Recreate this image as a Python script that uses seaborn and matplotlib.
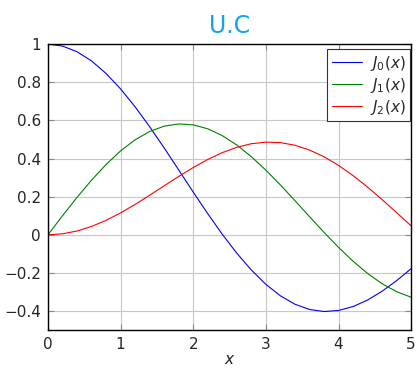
import numpy as np
import pandas as pd
import matplotlib
matplotlib.use("Agg")
import matplotlib.pyplot as plt
import seaborn as sns

# values, step 0.2
x_vals = [0.0, 0.2, 0.4, 0.6, 0.8, 1.0, 1.2, 1.4, 1.6, 1.8, 2.0, 2.2, 2.4,
          2.6, 2.8, 3.0, 3.2, 3.4, 3.6, 3.8, 4.0, 4.2, 4.4, 4.6, 4.8, 5.0]
j0_vals = [1.0000, 0.9900, 0.9604, 0.9120, 0.8463, 0.7652, 0.6711, 0.5669,
           0.4554, 0.3400, 0.2239, 0.1104, 0.0025, -0.0968, -0.1850, -0.2601,
           -0.3202, -0.3643, -0.3918, -0.4026, -0.3971, -0.3766, -0.3423,
           -0.2961, -0.2404, -0.1776]
j1_vals = [0.0000, 0.0995, 0.1960, 0.2867, 0.3688, 0.4401, 0.4983, 0.5419,
           0.5699, 0.5815, 0.5767, 0.5560, 0.5202, 0.4708, 0.4097, 0.3391,
           0.2613, 0.1792, 0.0955, 0.0128, -0.0660, -0.1386, -0.2028,
           -0.2566, -0.2985, -0.3276]
j2_vals = [0.0000, 0.0050, 0.0197, 0.0437, 0.0758, 0.1149, 0.1593, 0.2074,
           0.2570, 0.3061, 0.3528, 0.3951, 0.4310, 0.4590, 0.4777, 0.4861,
           0.4835, 0.4697, 0.4448, 0.4093, 0.3641, 0.3105, 0.2501, 0.1846,
           0.1161, 0.0466]
series_names = ["$J_0(x)$", "$J_1(x)$", "$J_2(x)$"]
series_colors = ["blue", "green", "red"]

sns.set_style("whitegrid")
plt.rcParams['font.family'] = ['DejaVu Sans']
plt.rcParams['mathtext.fontset'] = 'dejavusans'

df = pd.DataFrame({
    "x": x_vals * 3,
    "y": j0_vals + j1_vals + j2_vals,
    "name": [series_names[0]] * len(x_vals) + [series_names[1]] * len(x_vals)
            + [series_names[2]] * len(x_vals),
})

fig = plt.figure(figsize=(4.17, 3.68), dpi=100)
ax = fig.add_axes([0.115, 0.103, 0.871, 0.777])

sns.lineplot(data=df, x="x", y="y", hue="name", palette=series_colors,
             linewidth=0.8, ax=ax)

ax.set_xlim(0, 5)
ax.set_ylim(-0.5, 1)
ax.set_xticks([0, 1, 2, 3, 4, 5])
ax.set_yticks([-0.4, -0.2, 0, 0.2, 0.4, 0.6, 0.8, 1])
ax.set_yticklabels(["\u22120.4", "\u22120.2", "0", "0.2", "0.4", "0.6", "0.8", "1"])
ax.grid(True, color="#c8c8c8", linewidth=0.8)
ax.tick_params(direction="in", length=4, color="#888888", labelsize=11,
               bottom=True, left=True, top=True, right=True, pad=5)
for s in ax.spines.values():
    s.set_color("black")
    s.set_linewidth(1.0)

ax.set_xlabel("$x$", fontsize=11, labelpad=0)
ax.set_ylabel("")
ax.set_title("U.C", color="#12a6e6", fontsize=17, pad=8)

leg = ax.legend(loc="upper right", bbox_to_anchor=(0.997, 0.983),
                fontsize=11, frameon=True, fancybox=False,
                edgecolor="#333333", framealpha=1, handlelength=2.0,
                handletextpad=0.5, borderaxespad=0, labelspacing=0.2,
                borderpad=0.3)
leg.get_frame().set_linewidth(0.8)

plt.savefig("out.png", dpi=100)
